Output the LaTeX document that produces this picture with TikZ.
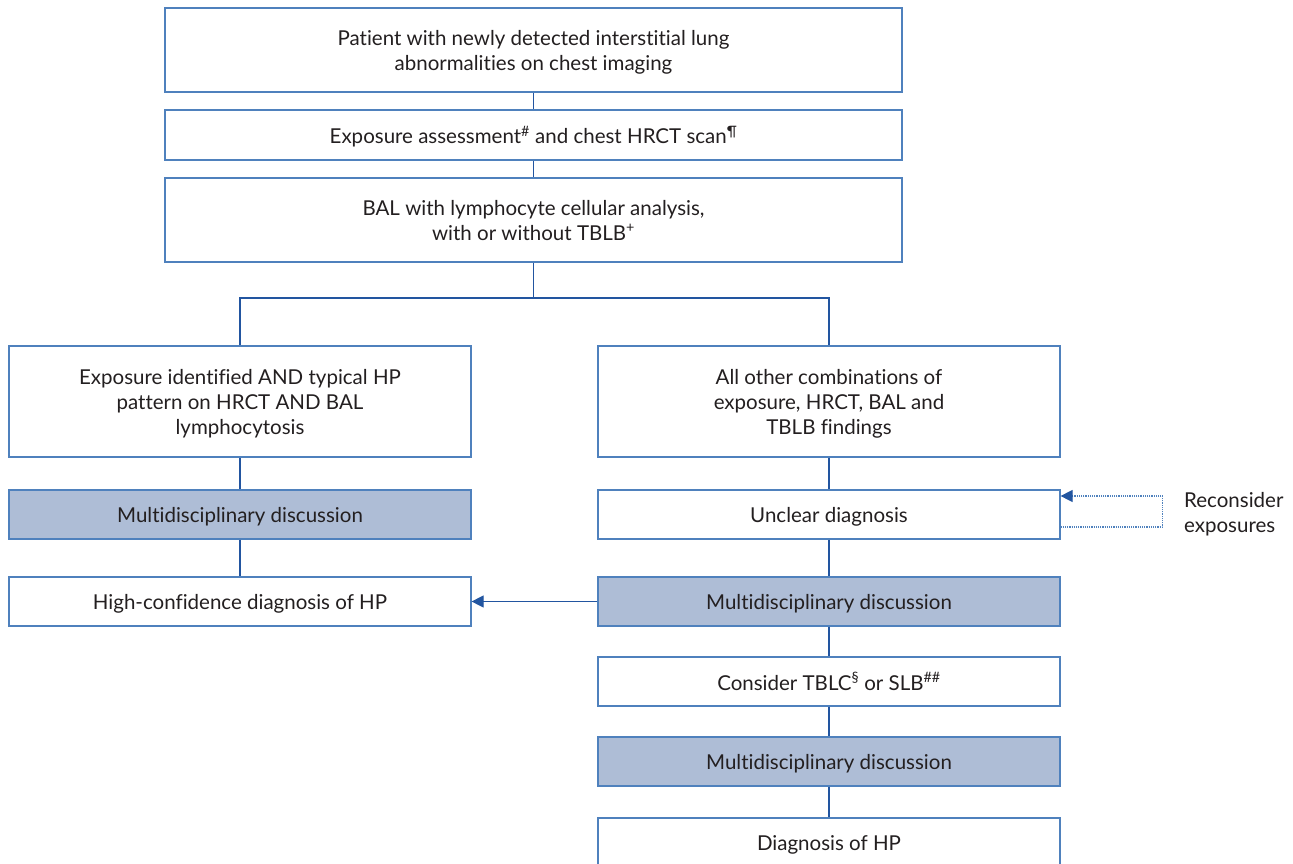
\documentclass[tikz,border=0pt]{standalone}
\usepackage{fontspec}
\setmainfont{Lato}[Ligatures={NoCommon}]
\usetikzlibrary{arrows.meta}
\definecolor{boxBlue}{RGB}{79,129,189}
\definecolor{lineBlue}{RGB}{34,85,160}
\definecolor{mdtFill}{RGB}{174,189,214}
\definecolor{txtGray}{RGB}{35,31,32}

\tikzset{
  box/.style={draw=boxBlue, line width=1.2pt, fill=white, text=txtGray, align=center,
    inner sep=0pt, text depth=-2pt, font=\fontsize{20.5}{25}\selectfont},
  widebox/.style={box, minimum width=737pt},
  colbox/.style={box, minimum width=462pt},
  mdt/.style={colbox, fill=mdtFill, minimum height=49pt},
  link/.style={draw=lineBlue, line width=1.2pt},
  tip/.style={-{Triangle[length=12pt,width=12pt,color=lineBlue]}},
}

\begin{document}
\begin{tikzpicture}[x=1pt,y=-1pt]
  \clip (0,0) rectangle (1293,864);
  \fill[white] (0,0) rectangle (1293,864);

  % top of the chart
  \node[widebox, minimum height=84pt] (patient) at (533.5,50)
    {Patient with newly detected interstitial lung\\abnormalities on chest imaging};
  \node[widebox, minimum height=50pt] (exposure) at (533.5,135)
    {Exposure assessment\textsuperscript{\#} and chest HRCT scan\textsuperscript{¶}};
  \node[widebox, minimum height=84pt] (bal) at (533.5,220)
    {BAL with lymphocyte cellular analysis,\\with or without TBLB\textsuperscript{+}};
  \coordinate (split) at (533.5,298);

  % left column
  \node[colbox, minimum height=111pt] (typical) at (240,401.5)
    {Exposure identified AND typical HP\\pattern on HRCT AND BAL\\lymphocytosis};
  \node[mdt] (mddA) at (240,514.5) {Multidisciplinary discussion};
  \node[colbox, minimum height=49pt] (hcd) at (240,601.5) {High-confidence diagnosis of HP};

  % right column
  \node[colbox, minimum height=111pt] (others) at (829,401.5)
    {All other combinations of\\exposure, HRCT, BAL and\\TBLB findings};
  \node[colbox, minimum height=49pt] (unclear) at (829,514.5) {Unclear diagnosis};
  \node[mdt] (mddB) at (829,601.5) {Multidisciplinary discussion};
  \node[colbox, minimum height=49pt] (consider) at (829,681.5)
    {Consider TBLC\textsuperscript{§} or SLB\textsuperscript{\#\#}};
  \node[mdt] (mddC) at (829,761.5) {Multidisciplinary discussion};
  \node[colbox, minimum height=50pt] (final) at (829,843) {Diagnosis of HP};

  \node[anchor=west, align=left, text=txtGray, font=\fontsize{20.5}{25}\selectfont, inner sep=0pt]
    (recon) at (1184,514) {Reconsider\\exposures};

  % connectors
  \draw[link] (patient.south) -- (exposure.north);
  \draw[link] (exposure.south) -- (bal.north);
  \draw[link] (bal.south) -- (split);
  \draw[link] (typical.north) |- (split) -| (others.north);
  \draw[link] (typical.south) -- (mddA.north);
  \draw[link] (mddA.south) -- (hcd.north);
  \draw[link] (others.south) -- (unclear.north);
  \draw[link] (unclear.south) -- (mddB.north);
  \draw[link] (mddB.south) -- (consider.north);
  \draw[link] (consider.south) -- (mddC.north);
  \draw[link] (mddC.south) -- (final.north);
  \draw[link, tip] (mddB.west) -- (hcd.east);

  % loop back
  \draw[draw=boxBlue, line width=1.2pt, densely dotted, tip]
    ([yshift=-12.5pt]unclear.east) -- ++(102,0) -- ++(0,-31) -- ([yshift=18.5pt]unclear.east);
\end{tikzpicture}
\end{document}
